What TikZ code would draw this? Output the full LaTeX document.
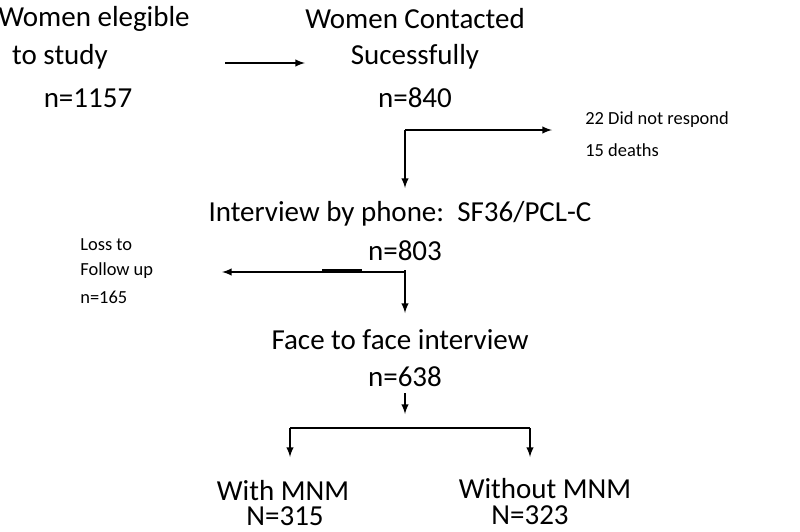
\documentclass[tikz,border=0pt]{standalone}
\usepackage{fontspec}
\setmainfont{Carlito}
\begin{document}
\begin{tikzpicture}[x=0.02cm,y=-0.02cm,
  big/.style={font=\fontsize{16.5}{20}\selectfont,align=center,inner sep=0pt},
  small/.style={font=\fontsize{10.5}{15}\selectfont,align=left,inner sep=0pt,anchor=west},
  arr/.style={-latex,line width=0.9pt},
  ln/.style={line width=0.9pt}]
\useasboundingbox (0,0) rectangle (800,531);
\node[big] (a1) at (94,19) {Women elegible};
\node[big] (a2) at (60,57) {to study};
\node[big] (a3) at (88,98) {n=1157};
\node[big] (b1) at (415,19) {Women Contacted};
\node[big] (b2) at (415,57) {Sucessfully};
\node[big] (b3) at (415,98) {n=840};
\coordinate (p1) at (225,63); \coordinate (p2) at (305,63);
\draw[arr] (p1) -- (p2);
\coordinate (c0) at (405,130); \coordinate (c1) at (405,188); \coordinate (c2) at (552,130);
\draw[arr] (c0) -- (c1);
\draw[arr] (c0) -- (c2);
\node[small] (d1) at (585,120) {22 Did not respond};
\node[small] (d2) at (585,150) {15 deaths};
\node[big] (e1) at (400,214) {Interview by phone:\ \ SF36/PCL-C};
\node[big] (e2) at (405,251) {n=803};
\coordinate (f0) at (405,270); \coordinate (f1) at (405,313); \coordinate (f2) at (222,272);
\draw[arr] (f0) -- (f1);
\draw[arr] (f0) -- (405,272) -- (f2);
\draw[line width=1.6pt] (322,270) -- (362,270);
\node[small] (g1) at (80,245) {Loss to};
\node[small] (g2) at (80,271) {Follow up};
\node[small] (g3) at (80,297) {n=165};
\node[big] (h1) at (400,340) {Face to face interview};
\node[big] (h2) at (405,377) {n=638};
\coordinate (i0) at (405,393); \coordinate (i1) at (405,414);
\draw[arr] (i0) -- (i1);
\coordinate (j1) at (290,428); \coordinate (j2) at (530,428);
\draw[ln] (j1) -- (j2);
\coordinate (k1) at (290,457); \coordinate (k2) at (530,457);
\draw[arr] (j1) -- (k1);
\draw[arr] (j2) -- (k2);
\node[big] (m1) at (283,491) {With MNM};
\node[big] (m2) at (285,516) {N=315};
\node[big] (n1) at (545,489) {Without MNM};
\node[big] (n2) at (530,515) {N=323};
\end{tikzpicture}
\end{document}
